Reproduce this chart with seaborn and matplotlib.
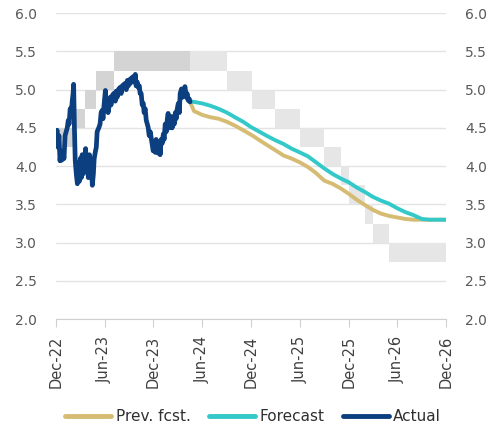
import pandas as pd
import matplotlib.pyplot as plt
import matplotlib.dates as mdates
import seaborn as sns

sns.set_style('white')
plt.rcParams['font.family'] = ['DejaVu Sans']

# actual yield
act_dates = ['2022-12-01', '2022-12-05', '2022-12-08', '2022-12-12', '2022-12-16', '2022-12-20',
             '2022-12-23', '2022-12-27', '2022-12-31', '2023-01-04', '2023-01-08', '2023-01-12',
             '2023-01-16', '2023-01-19', '2023-01-23', '2023-01-27', '2023-01-31', '2023-02-03',
             '2023-02-05', '2023-02-08', '2023-02-11', '2023-02-15', '2023-02-19', '2023-02-22',
             '2023-02-26', '2023-03-02', '2023-03-06', '2023-03-09', '2023-03-13', '2023-03-17',
             '2023-03-22', '2023-03-24', '2023-03-28', '2023-04-01', '2023-04-05', '2023-04-08',
             '2023-04-12', '2023-04-16', '2023-04-20', '2023-04-23', '2023-04-28', '2023-05-01',
             '2023-05-04', '2023-05-10', '2023-05-15', '2023-05-19', '2023-05-23', '2023-05-26',
             '2023-05-30', '2023-06-04', '2023-06-07', '2023-06-10', '2023-06-14', '2023-06-17',
             '2023-06-22', '2023-06-25', '2023-06-29', '2023-07-05', '2023-07-11', '2023-07-14',
             '2023-07-18', '2023-07-22', '2023-07-29', '2023-08-02', '2023-08-06', '2023-08-16',
             '2023-08-21', '2023-08-25', '2023-08-29', '2023-09-01', '2023-09-05', '2023-09-09',
             '2023-09-16', '2023-09-20', '2023-09-24', '2023-09-27', '2023-10-01', '2023-10-05',
             '2023-10-09', '2023-10-12', '2023-10-16', '2023-10-20', '2023-10-24', '2023-10-27',
             '2023-10-31', '2023-11-04', '2023-11-11', '2023-11-15', '2023-11-19', '2023-11-24',
             '2023-11-26', '2023-11-30', '2023-12-04', '2023-12-08', '2023-12-11', '2023-12-15',
             '2023-12-19', '2023-12-23', '2023-12-26', '2023-12-30', '2024-01-03', '2024-01-07',
             '2024-01-10', '2024-01-14', '2024-01-18', '2024-01-22', '2024-01-25', '2024-01-29',
             '2024-02-02', '2024-02-06', '2024-02-09', '2024-02-13', '2024-02-17', '2024-02-21',
             '2024-02-24', '2024-02-28', '2024-03-03', '2024-03-07', '2024-03-10', '2024-03-15',
             '2024-03-18', '2024-03-22', '2024-03-28', '2024-04-02', '2024-04-05', '2024-04-09',
             '2024-04-13', '2024-04-16']
act_vals = [4.40, 4.47, 4.25, 4.40, 4.07, 4.20,
            4.08, 4.15, 4.10, 4.40, 4.45, 4.50,
            4.60, 4.55, 4.75, 4.70, 4.86, 4.95,
            5.07, 4.50, 4.07, 3.90, 3.77, 4.05,
            3.80, 4.10, 3.85, 4.15, 3.90, 4.05,
            4.23, 3.95, 4.10, 3.85, 4.15, 3.90,
            4.05, 3.75, 3.90, 4.10, 4.20, 4.25,
            4.45, 4.50, 4.55, 4.70, 4.73, 4.62,
            4.80, 4.99, 4.75, 4.85, 4.70, 4.77,
            4.90, 4.80, 4.92, 4.95, 4.85, 4.98,
            4.90, 5.00, 5.03, 4.95, 5.05, 5.08,
            5.00, 5.12, 5.05, 5.13, 5.08, 5.15,
            5.17, 5.10, 5.20, 5.05, 5.10, 5.03,
            5.05, 4.95, 4.95, 4.80, 4.82, 4.70,
            4.75, 4.60, 4.51, 4.40, 4.45, 4.34,
            4.30, 4.20, 4.30, 4.18, 4.35, 4.20,
            4.17, 4.30, 4.15, 4.35, 4.30, 4.42,
            4.35, 4.55, 4.45, 4.62, 4.69, 4.50,
            4.60, 4.65, 4.50, 4.64, 4.55, 4.70,
            4.62, 4.75, 4.82, 4.70, 4.95, 5.01,
            4.90, 4.97, 5.04, 4.90, 4.95, 4.86,
            4.88, 4.84]

# forecasts: start point + monthly May-24 .. Dec-26
fc_dates = ['2024-04-16'] + [d.strftime('%Y-%m-%d') for d in pd.date_range('2024-05-01', '2026-12-01', freq='MS')]
forecast = [4.85, 4.84, 4.82, 4.79, 4.75, 4.70, 4.64, 4.58, 4.51, 4.45, 4.39, 4.34, 4.29, 4.23,
            4.18, 4.13, 4.05, 3.97, 3.90, 3.84, 3.79, 3.72, 3.66, 3.60, 3.55, 3.51, 3.45,
            3.40, 3.36, 3.31, 3.30, 3.30, 3.30]
prev_fcst = [4.84, 4.72, 4.67, 4.64, 4.62, 4.58, 4.53, 4.47, 4.41, 4.34, 4.27, 4.21, 4.14, 4.10,
             4.05, 3.99, 3.91, 3.81, 3.77, 3.71, 3.64, 3.56, 3.49, 3.43, 3.38, 3.35, 3.33,
             3.31, 3.30, 3.30, 3.30, 3.30, 3.30]

# policy rate range (lower bound, band is 25bp wide)
hist_band_dates = ['2022-12-01', '2023-02-02', '2023-03-19', '2023-05-01', '2023-07-05', '2024-04-16']
hist_band_low = [4.25, 4.50, 4.75, 5.00, 5.25, 5.25]
fc_band_dates = ['2024-04-16', '2024-09-02', '2024-12-03', '2025-03-01', '2025-06-01', '2025-09-01',
                 '2025-11-02', '2025-12-02', '2026-02-01', '2026-03-01', '2026-05-01', '2026-12-01']
fc_band_low = [5.25, 5.00, 4.75, 4.50, 4.25, 4.00, 3.75, 3.50, 3.25, 3.00, 2.75, 2.75]
band_width = 0.25

df_act = pd.DataFrame({'date': pd.to_datetime(act_dates), 'val': act_vals})
df_fc = pd.DataFrame({'date': pd.to_datetime(fc_dates), 'Forecast': forecast, 'Prev': prev_fcst})

fig = plt.figure(figsize=(4.87, 4.25), dpi=100)
ax = fig.add_axes([0.115, 0.249, 0.801, 0.72])

hb = pd.to_datetime(hist_band_dates)
ax.fill_between(hb, hist_band_low, [v + band_width for v in hist_band_low], step='post',
                color='#d4d4d4', lw=0, zorder=1)
fb = pd.to_datetime(fc_band_dates)
ax.fill_between(fb, fc_band_low, [v + band_width for v in fc_band_low], step='post',
                color='#e6e6e6', lw=0, zorder=1)

sns.lineplot(data=df_fc, x='date', y='Prev', color='#d6bb72', lw=2.8, ax=ax, label='Prev. fcst.', zorder=3)
sns.lineplot(data=df_fc, x='date', y='Forecast', color='#33c9c9', lw=2.8, ax=ax, label='Forecast', zorder=4)
sns.lineplot(data=df_act, x='date', y='val', color='#0b3f7f', lw=3.4, ax=ax, label='Actual', zorder=5)

ax.set_xlim(pd.Timestamp('2022-12-01'), pd.Timestamp('2026-12-01'))
ax.set_ylim(2.0, 6.0)
ax.set_yticks([2.0, 2.5, 3.0, 3.5, 4.0, 4.5, 5.0, 5.5, 6.0])
ax.yaxis.set_major_formatter(plt.FuncFormatter(lambda v, p: f'{v:.1f}'))
ax.grid(axis='y', color='#e3e3e3', lw=1)
ax.set_axisbelow(True)

ax.xaxis.set_major_locator(mdates.MonthLocator(bymonth=[6, 12]))
ax.xaxis.set_major_formatter(mdates.DateFormatter('%b-%y'))
plt.setp(ax.get_xticklabels(), rotation=90)

for s in ['top', 'left', 'right']:
    ax.spines[s].set_visible(False)
ax.spines['bottom'].set_color('#d0d0d0')
ax.tick_params(axis='x', bottom=True, length=6, color='#d0d0d0', labelsize=10.5, labelcolor='#404040', pad=6)
ax.tick_params(axis='y', left=False, right=False, labelleft=True, labelright=True,
               labelsize=10, labelcolor='#595959', pad=10)
ax.set_xlabel('')
ax.set_ylabel('')

handles, labels = ax.get_legend_handles_labels()
ax.get_legend().remove()
leg = fig.legend(handles, labels, loc='center', bbox_to_anchor=(0.52, 0.02), ncol=3, frameon=False,
                 fontsize=11, handlelength=3.0, columnspacing=1.2, handletextpad=0.3)
for line in leg.get_lines():
    line.set_linewidth(3.5)
for t in leg.get_texts():
    t.set_color('#303030')

plt.savefig('out.png', dpi=100)
